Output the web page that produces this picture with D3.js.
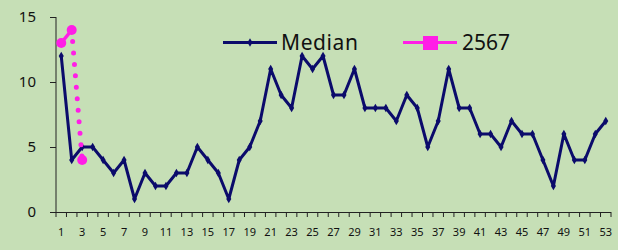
<!DOCTYPE html>
<html><head><meta charset="utf-8">
<script src="https://cdn.jsdelivr.net/npm/d3@7"></script>
<style>
html,body{margin:0;padding:0;background:#c6dfb6;}
svg{display:block;}
</style></head>
<body>
<svg id="chart" width="618" height="250"></svg>
<script>
const weeks = d3.range(1, 54);
const medianValues = [12,4,5,5,4,3,4,1,3,2,2,3,3,5,4,3,1,4,5,7,11,9,8,12,11,12,9,9,11,8,8,8,7,9,8,5,7,11,8,8,6,6,5,7,6,6,4,2,6,4,4,6,7];
const year2567Values = [13,14,4];
const yTicks = [0,5,10,15];
const xTickLabels = weeks.filter(w => w % 2 === 1);
const seriesNames = ["Median","2567"];

const svg = d3.select("#chart");
svg.append("rect").attr("width",618).attr("height",250).attr("fill","#c6dfb6");

const x = d3.scaleBand().domain(weeks).range([56, 611]).padding(0);
const cx = d => x(d) + x.bandwidth()/2;
const y = d3.scaleLinear().domain([0,15]).range([212, 17]);

// y axis
const yAxis = d3.axisLeft(y).tickValues(yTicks).tickSize(6).tickPadding(14);
const gy = svg.append("g").attr("transform","translate(56,0)").call(yAxis);
gy.select(".domain").attr("stroke","#222").attr("d","M0,17V212");
gy.selectAll(".tick line").attr("stroke","#222");
gy.selectAll("text").attr("font-family","Noto Sans, sans-serif").attr("font-size",15).attr("fill","#111");

// x axis
const xAxis = d3.axisBottom(x).tickValues([]).tickSizeOuter(0);
const gx = svg.append("g").attr("transform","translate(0,212)").call(xAxis);
gx.select(".domain").attr("stroke","#222").attr("d","M50,0.5H611");
gx.selectAll(".btick").data(weeks.concat([54])).enter().append("line")
  .attr("class","btick")
  .attr("x1", d => d === 54 ? 611 : x(d)).attr("x2", d => d === 54 ? 611 : x(d))
  .attr("y1",0).attr("y2",5).attr("stroke","#222");
gx.selectAll(".xl").data(xTickLabels).enter().append("text")
  .attr("x", d => cx(d)).attr("y", 24).attr("text-anchor","middle")
  .attr("font-family","Noto Sans, sans-serif").attr("font-size",11).attr("fill","#111")
  .text(d => d);

// median line
const medData = medianValues.map((v,i)=>({w:weeks[i], v}));
const line = d3.line().x(d=>cx(d.w)).y(d=>y(d.v));
svg.append("path").datum(medData).attr("d", line).attr("fill","none")
  .attr("stroke","#0b0b6b").attr("stroke-width",3).attr("stroke-linejoin","round");
const diamond = d3.symbol().type(d3.symbolDiamond).size(22);
svg.selectAll(".md").data(medData).enter().append("path")
  .attr("d", diamond).attr("transform", d=>`translate(${cx(d.w)},${y(d.v)})`).attr("fill","#0b0b6b");

// 2567 line
const yrData = year2567Values.map((v,i)=>({w:weeks[i], v}));
svg.append("path").datum(yrData.slice(0,2)).attr("d", line).attr("fill","none")
  .attr("stroke","#ff1ee6").attr("stroke-width",3.5);
svg.append("path").datum(yrData.slice(1,3)).attr("d", line).attr("fill","none")
  .attr("stroke","#ff1ee6").attr("stroke-width",5).attr("stroke-linecap","round")
  .attr("stroke-dasharray","0,11.5");
svg.selectAll(".yc").data(yrData).enter().append("circle")
  .attr("cx", d=>cx(d.w)).attr("cy", d=>y(d.v)).attr("r",5).attr("fill","#ff1ee6");

// legend
const lg = svg.append("g");
lg.append("line").attr("x1",223).attr("x2",277).attr("y1",42.5).attr("y2",42.5).attr("stroke","#0b0b6b").attr("stroke-width",3);
lg.append("path").attr("d", diamond).attr("transform","translate(250,42.5)").attr("fill","#0b0b6b");
lg.append("text").attr("x",281).attr("y",50).attr("font-family","Noto Sans, sans-serif").attr("font-size",21).attr("letter-spacing",0.6).attr("fill","#111").text(seriesNames[0]);
lg.append("line").attr("x1",403).attr("x2",457).attr("y1",42.5).attr("y2",42.5).attr("stroke","#ff1ee6").attr("stroke-width",3);
lg.append("rect").attr("x",423).attr("y",36).attr("width",15).attr("height",14).attr("fill","#ff1ee6");
lg.append("text").attr("x",462).attr("y",50).attr("font-family","Noto Sans, sans-serif").attr("font-size",21).attr("fill","#111").text(seriesNames[1]);
</script>
</body></html>
